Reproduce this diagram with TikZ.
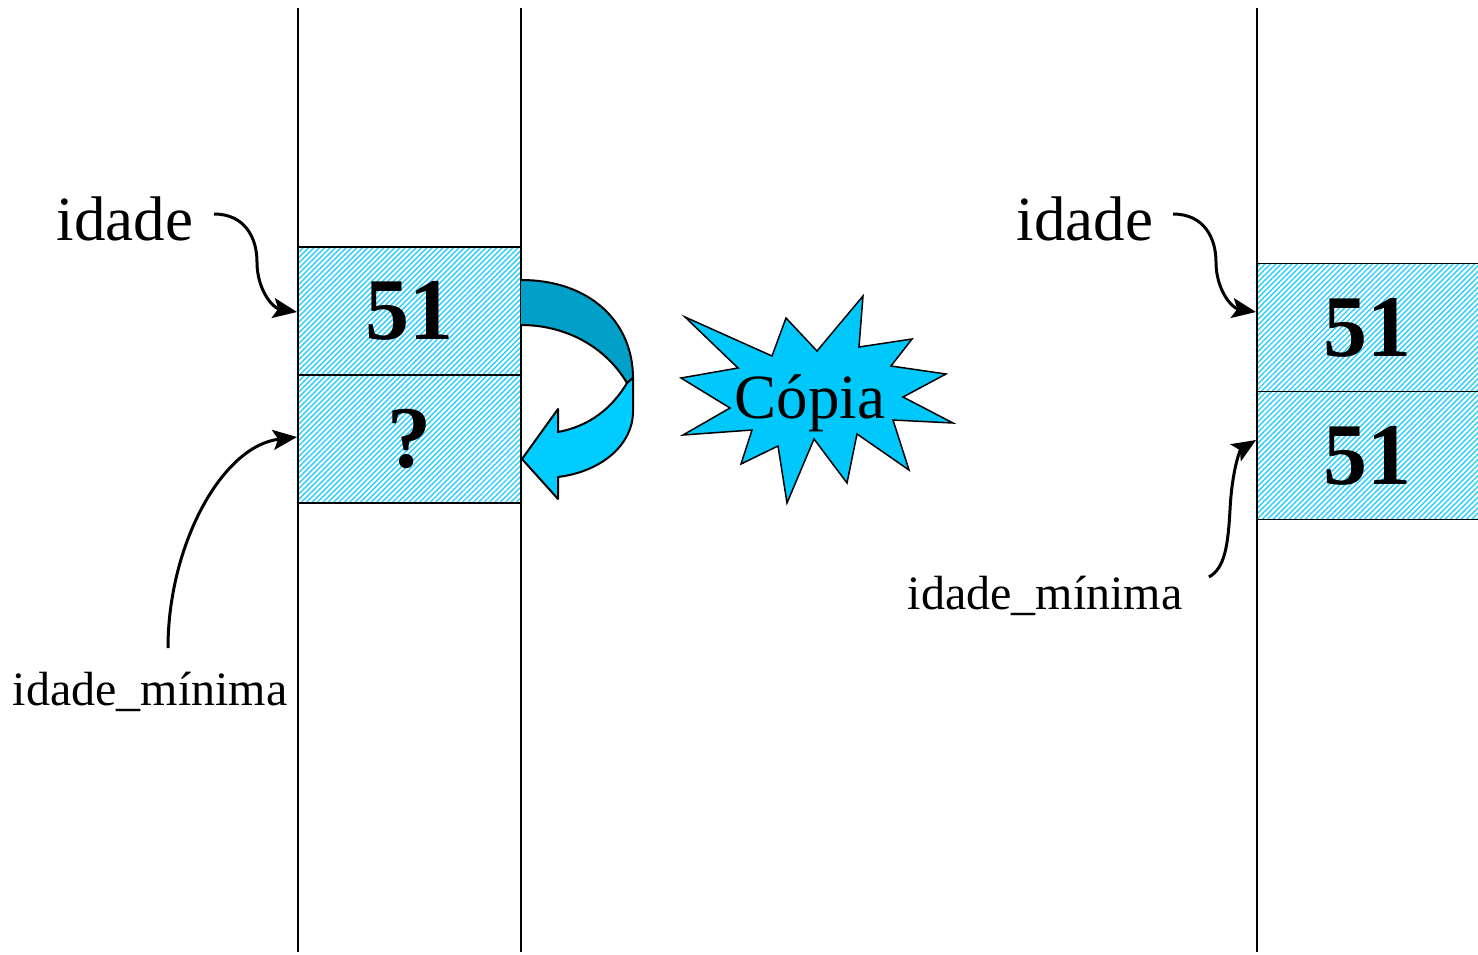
\documentclass[tikz,border=0pt]{standalone}
\usepackage{fontspec}
\setmainfont{Liberation Serif}
\usetikzlibrary{arrows.meta,patterns.meta}
\definecolor{hatch}{RGB}{40,205,255}
\definecolor{darkribbon}{RGB}{0,160,200}
\definecolor{lightribbon}{RGB}{0,204,255}
\definecolor{burst}{RGB}{0,200,250}
\tikzset{
  cell/.style={draw=black, line width=1.5pt, minimum width=223pt, minimum height=128pt, inner sep=0pt,
    pattern={Lines[angle=45,distance=3.8pt,line width=1.4pt]}, pattern color=hatch,
    font=\fontsize{88}{90}\selectfont\bfseries},
  wall/.style={line width=1.5pt},
  pointer/.style={line width=3pt, arrows={-Stealth[length=24pt,width=20pt,inset=5pt]}},
  bigtxt/.style={font=\fontsize{63}{70}\selectfont, inner sep=0pt, anchor=base},
  smalltxt/.style={font=\fontsize{48}{54}\selectfont, inner sep=0pt, anchor=base},
  ribbon/.style={draw=black, line width=2pt, line join=round}
}
\begin{document}
\begin{tikzpicture}[x=1pt,y=-1pt]
\useasboundingbox (0,0) rectangle (1478,954);
% memory cells
\node[cell] (a1) at (409.5,311) {51};
\node[cell] (a2) at (409.5,439) {?};
\node[cell, minimum width=240pt] (b1) at (1377,327.5) {};
\node[cell, minimum width=240pt] (b2) at (1377,455.5) {};
\node[font=\fontsize{88}{90}\selectfont\bfseries, inner sep=0pt] (b1t) at (1367,327.5) {51};
\node[font=\fontsize{88}{90}\selectfont\bfseries, inner sep=0pt] (b2t) at (1367,455.5) {51};
% walls
\draw[wall] (298,8) -- (298,952);
\draw[wall] (521,8) -- (521,952);
\draw[wall] (1257,8) -- (1257,952);
% labels
\node[bigtxt] (l1) at (125,240) {idade};
\node[bigtxt] (r1) at (1085,240) {idade};
\node[smalltxt] (l2) at (150,705) {idade\_mínima};
\node[smalltxt] (r2) at (1045,609) {idade\_mínima};
% pointers
\coordinate (l1s) at (214,214);
\coordinate (l1e) at (297,312);
\draw[pointer] (l1s) .. controls (245,214) and (257,238) .. (257,262)
  .. controls (257,290) and (273,308) .. (l1e);
\coordinate (r1s) at (1173,214);
\coordinate (r1e) at (1256,312);
\draw[pointer] (r1s) .. controls (1204,214) and (1216,238) .. (1216,262)
  .. controls (1216,290) and (1232,308) .. (r1e);
\coordinate (l2s) at (168,648);
\coordinate (l2e) at (297,437);
\draw[pointer] (l2s) .. controls (168,545) and (222,446) .. (l2e);
\coordinate (r2s) at (1209,577);
\coordinate (r2e) at (1256,440);
\draw[pointer] (r2s) .. controls (1225,568) and (1228,545) .. (1230,510)
  .. controls (1232,470) and (1240,450) .. (r2e);
% curved copy arrow
\filldraw[ribbon, fill=darkribbon] (521,280) .. controls (590,280) and (633,322) .. (633,378)
  -- (627,383) .. controls (605,346) and (565,325) .. (521,325);
\filldraw[ribbon, fill=lightribbon] (627,383) .. controls (612,408) and (590,426) .. (558,432)
  -- (558,409) -- (522,459) -- (558,499) -- (558,477)
  .. controls (605,471) and (633,442) .. (633,412) -- (633,378) -- cycle;
% starburst
\filldraw[draw=black, line width=1.5pt, fill=burst, line join=miter]
 (685,317) -- (772,356) -- (786,318) -- (817,351) -- (863,296) -- (859,347)
 -- (912,339) -- (891,366) -- (946,374) -- (903,397) -- (953,423) -- (893,420)
 -- (909,470) -- (857,434) -- (847,483) -- (814,439) -- (787,503) -- (778,446)
 -- (741,464) -- (752,430) -- (683,435) -- (730,408) -- (681,378) -- (738,368) -- cycle;
\node[bigtxt] (copia) at (810,418) {Cópia};
\end{tikzpicture}
\end{document}
